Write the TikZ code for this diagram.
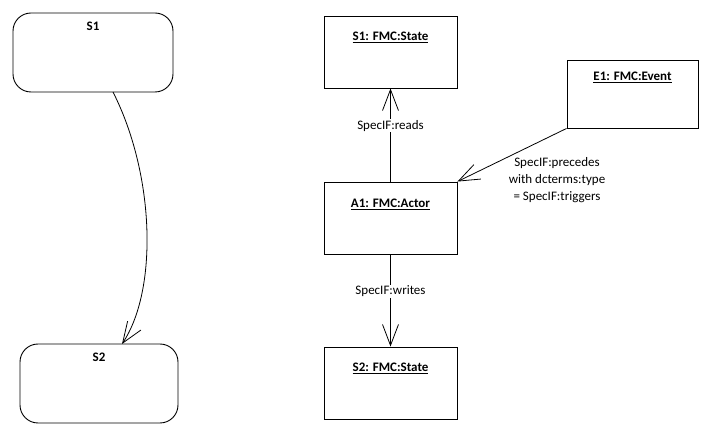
\documentclass[tikz,border=0pt]{standalone}
\usepackage{fontspec}
\setmainfont{Carlito}
\usetikzlibrary{arrows.meta}
\tikzset{
  statebox/.style={draw, rounded corners=18pt, line width=0.9pt, inner sep=0pt},
  fmcbox/.style={draw, line width=0.9pt, inner sep=0pt, minimum width=133pt, minimum height=72pt},
  title/.style={font=\fontsize{13}{15}\selectfont\bfseries, inner sep=1pt},
  lbl/.style={font=\fontsize{13}{17}\selectfont, inner sep=1pt},
  conn/.style={line width=0.8pt, -{Straight Barb[length=21pt,width=16pt,line width=0.8pt]}},
}
\begin{document}
\begin{tikzpicture}[x=1pt,y=-1pt]
\useasboundingbox (0,0) rectangle (713,438);
% left: state machine
\node[statebox, minimum width=160pt, minimum height=79pt] (s1) at (93,52.5) {};
\node[title] (s1t) at (93,26) {S1};
\node[statebox, minimum width=158pt, minimum height=79pt] (s2) at (99,383.5) {};
\node[title] (s2t) at (99,357) {S2};
\coordinate (c1) at (113,92);
\coordinate (c2) at (122,344);
\draw[conn] (c1) .. controls (155,175) and (158,290) .. (c2);
% right: FMC
\node[fmcbox] (S1F) at (390.5,52) {};
\node[title] (S1Ft) at (390.5,37) {\underline{S1: FMC:State}};
\node[fmcbox, minimum width=131pt, minimum height=68pt] (E1) at (632.5,94) {};
\node[title] (E1t) at (632.5,77) {\underline{E1: FMC:Event}};
\node[fmcbox] (A1) at (390.5,218) {};
\node[title] (A1t) at (390.5,204) {\underline{A1: FMC:Actor}};
\node[fmcbox] (S2F) at (390.5,383) {};
\node[title] (S2Ft) at (390.5,368) {\underline{S2: FMC:State}};
\draw[conn] (A1.north) -- (S1F.south) node[lbl, fill=white, pos=0.6] (rd) {SpecIF:reads};
\draw[conn] (A1.south) -- (S2F.north) node[lbl, fill=white, pos=0.4] (wr) {SpecIF:writes};
\draw[conn] (E1.south west) -- (A1.north east);
\node[lbl, align=center] (pr) at (557,180) {SpecIF:precedes\\with dcterms:type\\= SpecIF:triggers};
\end{tikzpicture}
\end{document}
